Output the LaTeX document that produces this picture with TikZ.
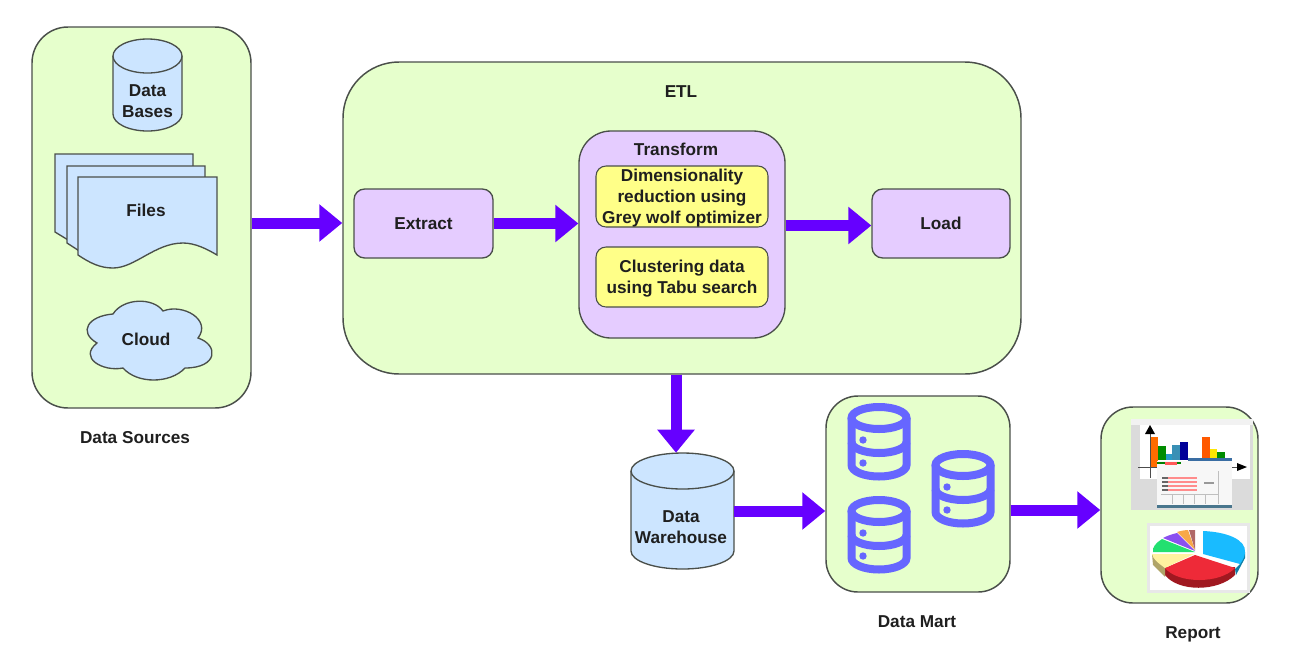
\documentclass[tikz,border=0pt]{standalone}
\usepackage{fontspec}
\setmainfont{Liberation Sans}
\usetikzlibrary{arrows.meta,calc}

\definecolor{panelgreen}{HTML}{E6FFCC}
\definecolor{storeblue}{HTML}{CCE5FF}
\definecolor{stagepurple}{HTML}{E5CCFF}
\definecolor{stepyellow}{HTML}{FFFF88}
\definecolor{edgegrey}{HTML}{4A4F4A}
\definecolor{flowviolet}{HTML}{6600FF}
\definecolor{iconblue}{HTML}{6666FF}
\definecolor{pieblue}{HTML}{19BBFF}
\definecolor{pieteal}{HTML}{0F7FA6}
\definecolor{piered}{HTML}{EE2A38}
\definecolor{piedark}{HTML}{A01820}
\definecolor{piekhaki}{HTML}{B0A468}
\definecolor{pieyellow}{HTML}{FFF2A0}
\definecolor{piegreen}{HTML}{22E070}
\definecolor{pieviolet}{HTML}{8A50F0}
\definecolor{pieorange}{HTML}{F8A848}
\definecolor{piebrown}{HTML}{B06868}

\newcommand{\cylbody}[5]{% left, right, top, bottom, ellipse radius
  \draw[store] (#1,#3+#5) -- (#1,#4-#5) arc[start angle=180,end angle=0,x radius={(#2-#1)/2},y radius=#5]
    -- (#2,#3+#5) arc[start angle=0,end angle=-180,x radius={(#2-#1)/2},y radius=#5] -- cycle;
  \draw[store] (#1,#3+#5) arc[start angle=180,end angle=0,x radius={(#2-#1)/2},y radius=#5];
}

\tikzset{
  panel/.style={draw=edgegrey,line width=1.1pt,fill=panelgreen,inner sep=0pt},
  stage/.style={draw=edgegrey,line width=1pt,fill=stagepurple,inner sep=0pt},
  substep/.style={draw=edgegrey,line width=.8pt,fill=stepyellow,inner sep=0pt,rounded corners=7.5pt,
    minimum width=129pt},
  store/.style={draw=edgegrey,line width=1pt,fill=storeblue},
  label/.style={inner sep=0pt,align=center,text=black!88,
    font=\bfseries\fontsize{12.9}{15.75}\selectfont},
  flow/.style={draw=flowviolet,line width=8.25pt,-{Triangle[length=17.25pt,width=27pt]}},
  dbicon/.pic={
    \draw[iconblue,line width=6pt] (3.5,15) -- (3.5,62)
      arc[start angle=180,end angle=0,x radius=27.5,y radius=11.5] -- (58.5,15);
    \draw[iconblue,line width=6pt] (31,15) ellipse[x radius=27.5,y radius=11];
    \draw[iconblue,line width=6pt] (3.5,39) arc[start angle=180,end angle=0,x radius=27.5,y radius=11];
    \fill[iconblue] (15,37) circle[radius=3.7] (15,60) circle[radius=3.7];
  },
}

\begin{document}
\begin{tikzpicture}[x=0.75pt,y=-0.75pt]
\useasboundingbox (0,0) rectangle (1314,654);

% Green panels
\node[panel,rounded corners=27pt,minimum width=164.25pt,minimum height=285.75pt] (sources) at (141.5,217.5) {};
\node[panel,rounded corners=42pt,minimum width=508.5pt,minimum height=234pt] (etl) at (682,218) {};
\node[panel,rounded corners=24pt,minimum width=138pt,minimum height=147pt] (mart) at (918,494) {};
\node[panel,rounded corners=24pt,minimum width=117.75pt,minimum height=147pt] (report) at (1179.5,505) {};

% ETL stages
\node[stage,rounded corners=8pt,minimum width=104.25pt,minimum height=51.75pt,label] (extract) at (423.5,223.5) {Extract};
\node[stage,rounded corners=24pt,minimum width=154.5pt,minimum height=155.25pt] (transform) at (682,234.5) {};
\node[stage,rounded corners=8pt,minimum width=103.5pt,minimum height=51.75pt,label] (load) at (941,223.5) {Load};
\node[label] (etltitle) at (681,92) {ETL};
\node[label] (transformtitle) at (676,149) {Transform};
\node[substep,minimum height=45.75pt] (reduce) at (682,196.5) {};
\node[label] (reducetext) at (682,198.5) {Dimensionality\\reduction using\\Grey wolf optimizer};
\node[substep,minimum height=45pt] (cluster) at (682,277) {};
\node[label] (clustertext) at (682,278.5) {Clustering data\\using Tabu search};

% Data stores inside the sources panel
\cylbody{113}{182}{39}{131}{17}
\node[label] (databases) at (147.5,101) {Data\\Bases};

\draw[store] (55,154) -- (193,154) -- (193,225) -- (78,246) -- (55,232) -- cycle;
\draw[store] (67,166) -- (205,166) -- (205,235) -- (84,254) -- (67,243) -- cycle;
\draw[store] (78,177) -- (217,177) -- (217,255)
  .. controls (207,249) and (195,243) .. (183,243)
  .. controls (155,243) and (135,268) .. (113,268)
  .. controls (100,268) and (90,263) .. (78,255) -- cycle;
\node[label] (files) at (146,210) {Files};

\draw[store] (97,343)
  .. controls (78,332) and (88,316) .. (113,314)
  .. controls (123,298) and (153,297) .. (163,311)
  .. controls (183,303) and (212,320) .. (198,338)
  .. controls (219,345) and (218,368) .. (185,368)
  .. controls (170,384) and (137,384) .. (123,368)
  .. controls (103,372) and (78,358) .. (97,343) -- cycle;
\node[label] (cloud) at (146,339) {Cloud};

% Warehouse
\cylbody{631}{734}{453}{569}{18}
\node[inner sep=0pt,minimum width=77.25pt,minimum height=87pt] (warehouse) at (682,511) {};
\node[label] (warehousetext) at (681,527) {Data\\Warehouse};

% Data mart icons
\pic at (848,403) {dbicon};
\pic at (932,450) {dbicon};
\pic at (848,496) {dbicon};

% Report: bar chart thumbnail
\fill[black!14] (1131,419) rectangle (1253,510);
\fill[black!5] (1131,419) rectangle (1253,425);
\fill[white] (1140,425) rectangle (1250,479);
\fill[orange!85!red] (1151,437) rectangle (1158,468);
\fill[green!55!black] (1158,446) rectangle (1166,460);
\fill[cyan!80!black] (1166,454) rectangle (1172,460);
\fill[cyan!70!black] (1172,445) rectangle (1180,460);
\fill[blue!60!black] (1180,442) rectangle (1188,460);
\fill[orange!70!red] (1202,437) rectangle (1210,460);
\fill[yellow!90!orange] (1210,449) rectangle (1217,460);
\fill[green!55!black] (1217,452) rectangle (1225,460);
\fill[cyan!55!blue!75!black] (1188,458) rectangle (1232,461);
\draw[black!70,line width=.7pt] (1138,467) -- (1240,467);
\draw[black!70,line width=.7pt] (1150,478) -- (1150,430);
\fill[black] (1150,425) -- (1155,434) -- (1145,434) -- cycle;
\fill[black] (1247,467) -- (1237,463) -- (1237,471) -- cycle;
\fill[black!3] (1157,461) rectangle (1232,508);
\fill[cyan!50!black] (1157,505) rectangle (1232,508);
\fill[green!50!black] (1157,462) rectangle (1165,464);
\fill[red!65] (1165,462) rectangle (1177,465);
\fill[green!50!black] (1177,462) rectangle (1181,464);
\foreach \yy in {477,481,485,489}{
  \fill[red!45] (1162,\yy) rectangle (1197,\yy+1.5);
  \fill[black!60] (1162,\yy) rectangle (1168,\yy+1.5);
}
\draw[black!25,line width=.4pt] (1161,494) -- (1218,494) (1172,494) -- (1172,504) (1183,494) -- (1183,504)
  (1194,494) -- (1194,504) (1205,494) -- (1205,504) (1218,471) -- (1218,504);
\fill[black!40] (1204,482) rectangle (1214,483.5);

% Report: pie chart thumbnail
\fill[black!9] (1147,523) rectangle (1250,593);
\fill[white] (1150,526) rectangle (1247,590);
\fill[piedark] (1165,567) -- (1165,575) .. controls (1178,592) and (1218,592) .. (1235,575) -- (1235,567) -- cycle;
\fill[piekhaki] (1152,554) -- (1153,565) -- (1165,577) -- (1165,568) -- cycle;
\fill[pieteal] (1240,564) -- (1245,552) -- (1245,558) -- (1236,575) -- (1235,569) -- cycle;
\fill[piered] (1195,555) -- (1235,568) .. controls (1220,584) and (1178,584) .. (1165,568) -- cycle;
\fill[pieyellow] (1194,554) -- (1165,568) .. controls (1158,563) and (1153,559) .. (1152,554) -- cycle;
\fill[piegreen] (1195,552) -- (1153,552) .. controls (1152,547) and (1156,543) .. (1162,539) -- cycle;
\fill[pieviolet] (1195,551) -- (1163,538) .. controls (1167,536) and (1172,534) .. (1177,533) -- cycle;
\fill[pieorange] (1195,550) -- (1177,532) .. controls (1180,531) and (1185,530) .. (1188,530) -- cycle;
\fill[piebrown] (1195,550) -- (1189,530) -- (1195,530) -- cycle;
\fill[pieblue] (1203,554) -- (1203,531) .. controls (1228,532) and (1246,540) .. (1245,552)
  .. controls (1245,556) and (1243,560) .. (1240,564) -- cycle;

% Data flow
\coordinate (etlin) at ($(etl.west)+(0,5)$);
\draw[flow] (etlin -| sources.east) -- (etlin);
\draw[flow] (extract.east) -- (extract.east -| transform.west);
\draw[flow] ($(load.west -| transform.east)+(0,2)$) -- ($(load.west)+(0,2)$);
\draw[flow] ($(etl.south)+(-6,0)$) -- ($(warehouse.north)+(-6,0)$);
\draw[flow] (warehouse.east) -- (warehouse.east -| mart.west);
\coordinate (reportin) at ($(report.west)+(0,5)$);
\draw[flow] (reportin -| mart.east) -- (reportin);

% Panel captions
\node[label] (sourcescap) at (135,438) {Data Sources};
\node[label] (martcap) at (917,622) {Data Mart};
\node[label] (reportcap) at (1193,634.5) {Report};
\end{tikzpicture}
\end{document}
